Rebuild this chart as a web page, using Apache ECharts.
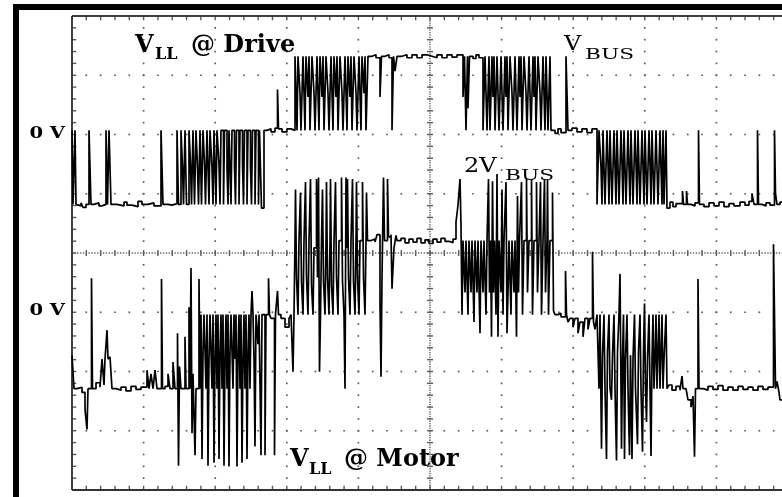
<!DOCTYPE html>
<html><head><meta charset="utf-8">
<script src="https://cdn.jsdelivr.net/npm/echarts@6/dist/echarts.min.js"></script>
<style>html,body{margin:0;padding:0;background:#fff}#c{width:782px;height:497px}</style>
</head><body><div id="c"></div><script>
// Time axis: scope record samples (71.6 samples per division); values: volts in units of V_BUS
const driveSteps = [
 [0,0],[1,-1],[3,0],[4,-1],[6,-1.02],[9,-0.98],[11,-1.04],[14,-1],
 [17,0],[19,-1],[22,-0.98],[27,-1.02],[30,-1],
 [34,0],[35.5,-1],[37,0],[39,-1],
 [45,-1.02],[52,-0.97],[55,-1.01],[60,-1.03],[66,-0.96],[70,-1],[76,-0.98],[82,-1.02],
 [89,0],[91,-1],[96,-1.01],[100,-0.99],
 [105,0],[106.5,-1],[109,0],[110.5,-0.5],[111.5,-1],[113,0],[114.5,-1],[117,0],[118.5,-0.45],[119.5,-1],
 [121,0],[122.5,-1],[124,0],[125.5,-0.5],[126.5,-1],[128,0],[129.5,-1],[131,0],[132.5,-0.45],[133.5,-1],
 [135,0],[137,-1],[138,0],[140,-0.5],[141,-1],[142,0],[144,-1],[145,0],[147,-0.45],[148,-1],
 [149,0],[151.5,-1],[152.5,0],[155,-0.5],[156,-1],[157,0],[159,-1],[160,0],[162.5,-0.5],[163.5,-1],
 [164.5,0],[167,-1],[168,0],[170.5,-0.45],[171.5,-1],[172.5,0],[175,-1],[176,0],[178.5,-0.5],[179.5,-1],
 [180.5,0],[183,-1],[184,0],[186.5,-1],[187.5,0],[189.5,-1.05],[192,0],
 [195,0.02],[199,-0.02],[203,0.03],[205.5,0.55],[206.5,0.02],[210,-0.02],[215,0.02],[219,0],
 [223,1],[225,0],[226,1],[228,0.5],[229,0],[231,1],[233,0],[234,1],[236,0.45],[237,1],
 [238,0],[240,1],[242,0.5],[243,0],[245,1],[247,0],[248,1],[250,0.45],[251,1],[252,0],
 [254,1],[256,0.5],[257,0],[259,1],[261,0],[262,1],[264,0.45],[265,1],[266,0],[268,1],
 [270,0.5],[271,0],[273,1],[275,0],[276,1],[278,0.45],[279,1],[280,0],[282,1],[284,0.5],
 [285,0],[287,1],[289,0],[290,1],[292,0.5],[293,1],[294,0],[296,1],
 [300,1.02],[304,0.98],[308,0.45],[309.5,1],[313,1.02],[317,0.98],[320,0],[321.5,1],[323,0.8],[325,1],
 [330,1.02],[335,0.98],[340,1.02],[345,0.98],[350,1.02],[355,1],[360,0.98],[365,1.02],[370,0.98],[375,1.02],[380,0.99],[385,1.02],
 [391,0.45],[392.5,1],[394,0],[395.5,1],[396,0.3],[397.5,1],[401,0.97],[404,1.02],[407,0.98],
 [411,0],[413,1],[414,0.5],[415,0],[417,1],[418,0],[420,1],[421,0.45],[422,1],[423,0],
 [425,1],[426,0.5],[427,0],[429,1],[431,0],[433,1],[434,0.45],[435,1],[436,0],[438,1],
 [440,0.5],[441,0],[443,1],[445,0],[447,1],[448,0.45],[449,1],[450,0],[452,1],[454,0.5],
 [455,0],[457,1],[459,0],[461,1],[462,0.45],[463,1],[464,0],[466,1],[468,0.5],[469,0],
 [471,1],[473,0],[474,1],[475,0.5],[476,0],[478,1],[479,0],[481,0],
 [483,-0.04],[486,0.02],[489,-0.03],[494,1],[495,0.5],[496,0],
 [500,0.03],[505,-0.02],[510,0.02],[515,-0.03],[520,0.02],
 [525,-1],[527,0],[529,-0.5],[530,-1],[531,0],[533,-1],[535,0],[536,-0.45],[537,-1],[538,0],
 [540,-1],[542,0],[543,-0.5],[544,-1],[545,0],[547,-1],[549,0],[550,-0.45],[551,-1],[552,0],
 [554,-1],[556,0],[557,-0.5],[558,-1],[559,0],[561,-1],[563,0],[564,-0.45],[565,-1],[566,0],
 [568,-1],[570,0],[571,-0.5],[572,-1],[573,0],[575,-1],[577,0],[578,-0.45],[579,-1],[580,0],
 [582,-1],[584,0],[585,-0.5],[586,-1],[588,0],[590,-1],[591,0],[592,-1],[594,0],[595,-1.05],
 [598,-0.97],[601,-1.03],[604,-0.99],[610.5,-0.82],[611.5,-1],[614.5,-0.82],[615.5,-1],[619,-1.02],[623,-0.98],
 [626.5,0],[627.5,-1],
 [632,-1.03],[637,-0.98],[642,-1.02],[647,-0.97],[652,-1.03],[657,-0.99],[662,-1.02],[668,-0.97],[673,-1.01],[677,-0.96],[680,-0.85],[682,-1],
 [685.5,0],[686.5,-1],[690,-1.02],[694,-0.98],[698,-1.01],
 [702.5,0],[703.5,-0.85],[705,-1],[708,-0.97]
];
const motorSteps = [
 [0,-0.55],[2,-1],[5,-0.98],[10,-1.05],[13,-1.28],[15,-1.55],[16,-1],
 [19.5,0.49],[20.5,-1],[24,-0.92],[28,-0.98],[30,-0.6],[32,-0.95],[33,-0.6],[35,-0.21],[36,-0.6],[38,-0.57],[40,-1],
 [44,-1.02],[49,-0.98],[54,-1.03],[59,-0.97],[64,-1.01],[69,-0.98],
 [75,-0.75],[77,-1],[79,-0.8],[81,-1],[83,-0.75],[85,-1],
 [89.5,0.48],[90.5,-1],[93,-0.97],[96,-0.8],[98,-1],[101,-0.64],[103,-1],
 [105.5,-0.25],[106.5,-2.04],[107.5,-0.7],[109,-1],
 [113,-0.3],[114,-1],[117,0.1],[118,-1],[119,0.63],[120,-1.6],[121,-0.8],[123,-1.9],[124,-1],[127,0.48],[128,-1],
 [129,0],[130,-1.95],[131,-0.5],[132,0],[134,-1],[135,0],[136,-2.04],[137,-0.6],[138,0],[140,-1],
 [141,0],[142,-2],[143,-0.6],[144,0],[145,-1],[146,0],[147,-1.95],[148,-0.5],[149,0],[150,-1],
 [151,0],[152,-2.04],[153,-0.6],[154,0],[155,-1],[156,0],[157,-2.05],[158,-0.5],[159,0],[161,-1],
 [162,0],[163,-0.6],[164,0],[165,-2.05],[166,-0.5],[167,0],[168,-1],[169,0],[170,-2],[171,-0.6],
 [172,0],[173,-1],[174,0],[175,-1.95],[176,-0.5],[177,0],[178,-1],[179,0],[180,0.32],[181,0],
 [182,-0.6],[183,-1.78],[184,0],[186,-0.4],[187,0],[189,-1.9],[190,0],
 [193,-1.9],[194,0],[196.5,0.49],[197.5,0],[199,-0.05],[202.5,-1.9],[203.5,0],[205.5,0.32],[206.5,0],
 [209,-0.05],[213,-0.17],[217,-0.05],[219,0],[221,-0.77],[222,0],
 [223,1],[223.5,1.69],[224.5,0.5],[226,0],[227,1],[228.5,1.65],[229.5,0.45],[231,0],[232,1],[233.5,1.79],
 [234.5,0.5],[236,0],[237,1],[238.5,1.83],[239.5,0.4],[241,0],[242,0.9],[244.5,1.83],[245.5,0.5],[246.5,1.85],
 [247.5,-0.77],[248.5,0],[249.5,1],[250.5,1.69],[251.5,0.45],[253,0],[254,1],[254.5,1.79],[255.5,0.5],[257,0],
 [258,1],[258.5,1.83],[259.5,0.4],[261,0],[262,1],[263.5,1.79],[264.5,0.5],[266,0],[267,1],[269.5,1.85],
 [270.5,0.45],[272,0],[273,-1],[274,1.85],[275,0.9],[275.5,1.83],[276.5,0.5],[278,0],[279,1],[280.5,1.83],
 [281.5,0.45],[283,0],[284,1],[284.5,1.79],[285.5,0.5],[287,0],[288,1],[290.5,1.79],[291.5,0.5],[293,0],
 [294,1],[294.5,1.65],[295.5,1],
 [299,1.02],[303,0.98],[305,1.08],[308,0.15],[309,-0.84],[310,0.5],[311.5,1.85],[312.5,1],[315.5,1.83],[316.5,1.05],
 [319,1.08],[320,0.35],[322,0.9],[324,1.07],[325,1],
 [329,1.03],[333,0.97],[337,1.02],[341,0.98],[345,1.03],[349,0.97],[353,1.01],[357,0.96],[361,1.02],[365,0.98],
 [369,1.03],[373,0.99],[377,0.97],[381,1.02],
 [384,1.25],[386,1.48],[388,1.83],[389,1.2],
 [390,0],[391,1],[393,0.3],[394,1],[396,0],[397,1],[399,0.3],[400,1],[402,-0.1],[403,1],
 [405,0.3],[406,1],[408,-0.25],[409,1],[411,0.3],[412,1],[414,0],[415,1],
 [416.5,1.83],[417.5,0.3],[418.5,1],[419.5,-0.3],[420.5,1.8],[421.5,0.3],[422.5,1],
 [424,0],[425,1.9],[426,-0.3],[427,1],[429,0.3],[430,1.69],[431,0],[432,1],
 [434,1.79],[435,-0.25],[436,0.3],[437,1],[439,0],[440,1],[442,0.3],[443,1],
 [444.5,-0.3],[445.5,1.6],[446.5,0.3],[447.5,1],[449.5,1.79],[450.5,0],[452,1],
 [454.5,1.83],[455.5,0.3],[457,1],[459.5,1.83],[460.5,0],[462,1],[464.5,1.79],[465.5,0.3],[467,1],
 [468.5,1.79],[469.5,0],[471,1],[472.5,1.83],[473.5,0.3],[475,1],[475.5,1.83],[476.5,0],[478,1],
 [480.5,1.65],[481.5,0.05],[483,0],
 [486,0.02],[489,-0.03],[493.5,0.59],[494.5,0],[496,-0.1],[498,-0.05],[501,-0.17],[503,-0.05],[506,-0.25],[508,-0.1],
 [511,-0.3],[513,-0.05],[516,-0.2],[518,-0.05],[520.5,0.85],[521.5,-0.1],[523,-0.2],
 [525,0],[527,-1],[528,0],[529.5,-1.81],[530.5,-0.55],[532,0],[533,-1],[534.5,-1.95],[535.5,-0.5],[537,0],
 [538,-1],[539.5,-1.15],[540.5,-0.55],[542,0],[543,-1],[544.5,-1.97],[545.5,-0.5],[547,0],[548,0.55],[549,-1],
 [549.5,-1.81],[550.5,-0.6],[551.5,0],[552.5,-1.95],[553.5,-0.6],[555,0],[556,-1],[557.5,-1.9],[558.5,-0.55],[560,-1.95],
 [561,-0.6],[562.5,0],[563.5,-1],[565.5,-1.75],[566.5,-0.5],[568,0],[569,-1],[570.5,-1.85],[571.5,-0.5],[572.5,0.15],
 [573.5,-1],[574.5,-1.45],[575.5,-0.6],[577,0],[578,-1],[579,-1.91],[580,-0.6],[581,0],[582,-1],[583,-0.6],
 [584,0],[585,-1],[587,0],[588,-1],[590,0],[591,-1],[592,-0.6],[594,0],[595,-1],[597,-0.95],
 [600,-1.02],[604,-0.97],[608,-1.02],[610,-0.83],[611,-1],[614,-0.98],[616,-1.15],[619,-1.25],[621,-1.1],[622.5,-1.92],
 [623.5,-1],[626,0.48],[627,-1],
 [631,-1.02],[636,-0.97],[641,-1.01],[646,-0.96],[651,-1.02],[656,-0.98],[661,-1.02],[666,-0.97],[671,-1.01],[676,-0.98],
 [681,-1.02],[686,-0.97],[691,-1.01],[696,-0.98],
 [701.5,0.95],[702.5,0],[703.5,-1],[705,-0.9],[707,-1.05],[708,-1.15]
];
const zeroLabels = ['0 V', '0 V'];
const labelTexts = { driveV:'V', driveSub:'LL', driveRest:'@ Drive', busV:'V', busSub:'BUS', bus2V:'2V', bus2Sub:'BUS', motorV:'V', motorSub:'LL', motorRest:'@ Motor' };

const SAMPLES_PER_DIV = 71.6, X_MAX = 710;
const DIV_PER_VBUS = 1.25;
const DRIVE_ZERO = 6.07, MOTOR_ZERO = 2.96;

function buildTrace(steps, zero) {
  const pts = [];
  for (let i = 0; i < steps.length; i++) {
    const [t, v] = steps[i];
    if (i > 0) pts.push([t, zero + steps[i-1][1] * DIV_PER_VBUS]);
    pts.push([t, zero + v * DIV_PER_VBUS]);
  }
  pts.push([X_MAX, zero + steps[steps.length-1][1] * DIV_PER_VBUS]);
  return pts;
}

function renderGrid(params, api) {
  const ch = [];
  const P = (dx, dy) => api.coord([dx * SAMPLES_PER_DIV, dy]);
  const col = '#5a5a5a';
  const rect = (x, y, w, h, c) => ch.push({type:'rect', shape:{x:x - w/2, y:y - h/2, width:w, height:h}, style:{fill:c || col}});
  const line = (a, b, w, c) => ch.push({type:'line', shape:{x1:a[0], y1:a[1], x2:b[0], y2:b[1]}, style:{stroke:c, lineWidth:w}});
  for (let i = 1; i < 10; i++) {
    if (i === 5) continue;
    for (let k = 1; k < 40; k++) { const p = P(i, k * 0.2); rect(p[0], p[1], 1.7, 1.7); }
  }
  for (let j = 1; j < 8; j++) {
    if (j === 4) continue;
    for (let k = 1; k < 50; k++) { const p = P(k * 0.2, j); rect(p[0], p[1], 1.7, 1.7); }
  }
  for (let k = 1; k < 200; k++) { const p = P(5, k * 0.04); rect(p[0], p[1], 1.4, 1.3); }
  for (let k = 1; k < 40; k++) { const p = P(5, k * 0.2); rect(p[0], p[1], 6, 1.4); }
  for (let k = 1; k < 250; k++) { const p = P(k * 0.04, 4); rect(p[0], p[1], 1.3, 1.4); }
  for (let k = 1; k < 50; k++) { const p = P(k * 0.2, 4); rect(p[0], p[1], 1.4, 6); }
  for (let k = 1; k < 50; k++) {
    const a = P(k * 0.2, 8); rect(a[0], a[1] + 2.5, 1.4, 3.5);
    const b = P(k * 0.2, 0); rect(b[0], b[1] - 2.5, 1.4, 3.5);
  }
  for (let k = 1; k < 40; k++) { const a = P(0, k * 0.2); rect(a[0] + 2.5, a[1], 3.5, 1.4); }
  const tl = P(0, 8), bl = P(0, 0), tr = api.coord([X_MAX, 8]), br = api.coord([X_MAX, 0]);
  line(tl, tr, 1.5, '#000');
  line(tl, bl, 1.5, '#000');
  line(bl, br, 2, '#333');
  return {type:'group', children: ch};
}

const serif = '"DejaVu Serif", "Liberation Serif", serif';
function T(x, y, text, size, bold, sx) {
  return {type:'text', x:x, y:y, scaleX: sx || 1, z: 10,
    style:{text:text, fill:'#000', fontSize:size, fontFamily:serif, fontWeight: bold ? 'bold' : 'normal', verticalAlign:'middle', align:'left'}};
}
function TR(x, y, text, size, sx) {
  return {type:'text', x:x, y:y, scaleX: sx || 1, z: 10,
    style:{text:text, fill:'#000', fontSize:size, fontFamily:serif, fontWeight:'bold', verticalAlign:'middle', align:'right'}};
}

const chart = echarts.init(document.getElementById('c'), null, {renderer:'canvas'});
chart.setOption({
  animation:false,
  backgroundColor:'#fff',
  grid:{left:72, right:0, top:16, bottom:7, show:false},
  xAxis:{type:'value', min:0, max:X_MAX, interval:SAMPLES_PER_DIV, show:false},
  yAxis:{type:'value', min:0, max:8, interval:1, show:false},
  graphic:[
    {type:'rect', shape:{x:16, y:7, width:900, height:900}, style:{fill:'none', stroke:'#000', lineWidth:6}, z:20},
    T(135, 46, labelTexts.driveV, 24, true),
    T(155, 55, labelTexts.driveSub, 16, true),
    T(191, 46, labelTexts.driveRest, 24, true),
    T(564, 45, labelTexts.busV, 20, false, 1.2),
    T(585, 55, labelTexts.busSub, 14, false, 1.55),
    T(464, 167, labelTexts.bus2V, 20, false, 1.2),
    T(505, 176, labelTexts.bus2Sub, 14, false, 1.55),
    T(290, 460, labelTexts.motorV, 24, true),
    T(309, 470, labelTexts.motorSub, 16, true),
    T(344, 460, labelTexts.motorRest, 24, true),
    TR(65, 134, zeroLabels[0], 17, 1.15),
    TR(65, 311, zeroLabels[1], 17, 1.15)
  ],
  series:[
    {type:'custom', coordinateSystem:'cartesian2d', renderItem:renderGrid, data:[[0,0]], silent:true, z:1},
    {type:'line', name:'V_LL @ Drive', data:buildTrace(driveSteps, DRIVE_ZERO), showSymbol:false, symbol:'none',
      lineStyle:{color:'#000', width:1.7}, z:3},
    {type:'line', name:'V_LL @ Motor', data:buildTrace(motorSteps, MOTOR_ZERO), showSymbol:false, symbol:'none',
      lineStyle:{color:'#000', width:1.7}, z:3}
  ]
});
</script></body></html>
